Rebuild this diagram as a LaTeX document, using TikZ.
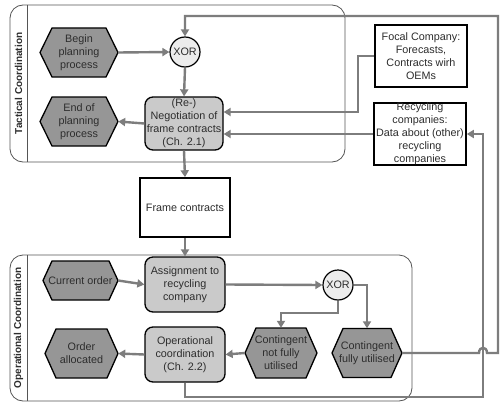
\documentclass[tikz,border=0pt]{standalone}
\usepackage{fontspec}
\setmainfont{Liberation Sans}
\usetikzlibrary{arrows.meta}

\definecolor{flow}{RGB}{125,125,125}
\definecolor{hexgray}{RGB}{150,150,150}
\definecolor{boxgray}{RGB}{202,202,202}
\definecolor{xorgray}{RGB}{236,236,236}
\definecolor{framegray}{RGB}{85,85,85}
\definecolor{txt}{RGB}{45,45,45}

\tikzset{
  flowline/.style={draw=flow, line width=2.4pt, -{Triangle[length=7pt,width=8pt]}},
  plainflow/.style={draw=flow, line width=2.4pt},
  lanebox/.style={draw=framegray, line width=0.8pt, rounded corners=13pt},
  lanesep/.style={draw=framegray, line width=0.8pt},
  lanelabel/.style={rotate=90, font=\fontsize{10}{12}\selectfont\bfseries, text=txt},
  eventtext/.style={align=center, font=\fontsize{10.8}{13}\selectfont, text=txt, inner sep=0pt},
  hexshape/.style={draw=black, fill=hexgray, line width=1.3pt, line join=miter},
  funcbox/.style={draw=black, fill=boxgray, line width=1.3pt, rounded corners=8pt,
    align=center, font=\fontsize{10.8}{13}\selectfont, text=txt, inner sep=0pt},
  infobox/.style={draw=black, fill=white, line width=1.6pt,
    align=center, font=\fontsize{10.8}{13}\selectfont, text=txt, inner sep=0pt},
  xorgate/.style={circle, draw=black, fill=xorgray, line width=1.2pt, minimum size=30pt,
    inner sep=0pt, font=\fontsize{10.8}{13}\selectfont, text=txt},
}

% event hexagon: name, centre x, centre y, width, height, tip depth, text
\newcommand\eventhex[7]{%
  \filldraw[hexshape] ({#2-#4/2},#3) -- ({#2-#4/2+#6},{#3-#5/2}) -- ({#2+#4/2-#6},{#3-#5/2})
    -- ({#2+#4/2},#3) -- ({#2+#4/2-#6},{#3+#5/2}) -- ({#2-#4/2+#6},{#3+#5/2}) -- cycle;
  \node[eventtext, minimum width=#4pt, minimum height=#5pt] (#1) at (#2,#3) {#7};
}

\begin{document}
\begin{tikzpicture}[x=1pt, y=-1pt]
\useasboundingbox[fill=white] (0,0) rectangle (500,404);

% swim lanes
\draw[lanebox] (10,5) rectangle (345,162);
\draw[lanesep] (27,5) -- (27,162);
\node[lanelabel] (tacl) at (18.5,83.5) {Tactical Coordination};

\draw[lanebox] (10,255) rectangle (412,401);
\draw[lanesep] (27,255) -- (27,401);
\node[lanelabel] (opl) at (18.5,328) {Operational Coordination};

% tactical level
\eventhex{begin}{79}{52.5}{78}{49}{12}{Begin\\planning\\process}
\eventhex{endp}{79}{121.5}{78}{49}{12}{End of\\planning\\process}
\node[xorgate] (xor1) at (185,52) {XOR};
\node[funcbox, minimum width=78pt, minimum height=53pt] (nego) at (184,123.5)
  {(Re-)\\Negotiation of\\frame contracts\\(Ch. 2.1)};

\node[infobox, minimum width=92pt, minimum height=62pt] (focal) at (421,56)
  {Focal Company:\\Forecasts,\\Contracts wirh\\OEMs};
\node[infobox, minimum width=92pt, minimum height=62pt] (recyc) at (420,134)
  {Recycling\\companies:\\Data about (other)\\recycling\\companies};

\node[infobox, minimum width=90pt, minimum height=59pt] (frame) at (185,207.5) {Frame contracts};

% operational level
\eventhex{current}{80.5}{280.5}{75}{39}{9}{Current order}
\node[funcbox, minimum width=80pt, minimum height=55pt] (assign) at (185,284.5)
  {Assignment to\\recycling\\company};
\node[xorgate] (xor2) at (338,285) {XOR};
\eventhex{cnot}{281}{353}{72}{50}{11}{Contingent\\not fully\\utilised}
\eventhex{cfull}{367}{353}{70}{49}{11}{Contingent\\fully utilised}
\node[funcbox, minimum width=80pt, minimum height=55pt] (opco) at (185,354.5)
  {Operational\\coordination\\(Ch. 2.2)};
\eventhex{alloc}{81.5}{353.5}{73}{49}{11}{Order\\allocated}

% routing points
\coordinate (focalbend) at (358,56);
\coordinate (xsplit) at (338,313);
\coordinate (loopbottom) at (483,397);
\coordinate (hopL) at (479,353);
\coordinate (hopR) at (487,353);
\coordinate (loopright) at (498,353);
\coordinate (looptopR) at (498,16);
\coordinate (looptopL) at (185,16);

% tactical flow
\draw[flowline] (begin.east) -- (xor1.west);
\draw[flowline] (xor1.south) -- (nego.north);
\draw[flowline] (nego.west) -- (endp.east);
\draw[flowline] (focal.west) -- (focalbend) |- ([yshift=11.5pt]nego.east);
\draw[flowline] (recyc.west) -- (recyc.west -| nego.east);
\draw[flowline] (nego.south) -- (frame.north);
\draw[flowline] (frame.south) -- (assign.north);

% operational flow
\draw[flowline] (current.east) -- (assign.west);
\draw[flowline] (assign.east) -- (xor2.west);
\draw[flowline] (xor2.south) -- (xsplit) -| (cnot.north);
\draw[flowline] (xor2.east) -| (cfull.north);
\draw[flowline] (cnot.west) -- (opco.east);
\draw[flowline] (opco.west) -- (alloc.east);

% feedback loops
\draw[flowline] (opco.south) |- (loopbottom) |- (recyc.east);
\draw[flowline] (cfull.east) -- (hopL) .. controls (479,346) and (487,346) .. (hopR)
  -- (loopright) -- (looptopR) -- (looptopL) -- (xor1.north);
\end{tikzpicture}
\end{document}
